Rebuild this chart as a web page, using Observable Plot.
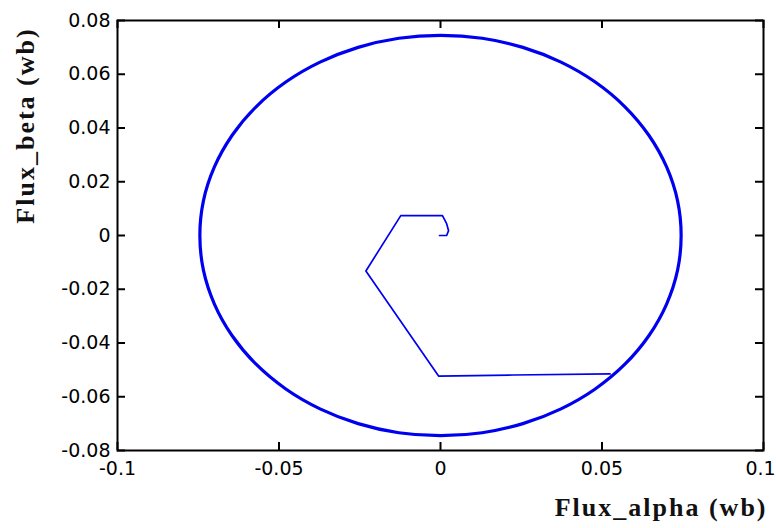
<!DOCTYPE html>
<html>
<head>
<meta charset="utf-8">
<script src="https://cdn.jsdelivr.net/npm/d3@7"></script>
<script src="https://cdn.jsdelivr.net/npm/@observablehq/plot@0.6"></script>
<style>
  html, body { margin: 0; padding: 0; background: #fff; overflow: hidden; }
  g[font-family="Liberation Serif"] text { letter-spacing: 2px; }
</style>
</head>
<body>
<div id="chart"></div>
<script>
// Steady-state flux circle
const circleAlpha = [0.0745, 0.0734, 0.0700, 0.0645, 0.0571, 0.0479, 0.0373, 0.0255, 0.0129, 0.0000,
  -0.0129, -0.0255, -0.0373, -0.0479, -0.0571, -0.0645, -0.0700, -0.0734, -0.0745,
  -0.0734, -0.0700, -0.0645, -0.0571, -0.0479, -0.0373, -0.0255, -0.0129, 0.0000,
  0.0129, 0.0255, 0.0373, 0.0479, 0.0571, 0.0645, 0.0700, 0.0734];
const circleBeta = [0.0000, 0.0129, 0.0255, 0.0373, 0.0479, 0.0571, 0.0645, 0.0700, 0.0734, 0.0745,
  0.0734, 0.0700, 0.0645, 0.0571, 0.0479, 0.0373, 0.0255, 0.0129, 0.0000,
  -0.0129, -0.0255, -0.0373, -0.0479, -0.0571, -0.0645, -0.0700, -0.0734, -0.0745,
  -0.0734, -0.0700, -0.0645, -0.0571, -0.0479, -0.0373, -0.0255, -0.0129];

// Start-up transient trajectory
const startAlpha = [-0.0003, 0.0019, 0.0025, 0.0019, 0.0006, -0.0123, -0.0231, -0.0006, 0.0225, 0.0525];
const startBeta  = [0.0000, 0.0000, 0.0018, 0.0044, 0.0074, 0.0074, -0.0132, -0.0523, -0.0519, -0.0515];

const xTicks = [-0.1, -0.05, 0, 0.05, 0.1];
const xTickLabels = ["-0.1", "-0.05", "0", "0.05", "0.1"];
const yTicks = [0.08, 0.06, 0.04, 0.02, 0, -0.02, -0.04, -0.06, -0.08];
const yTickLabels = ["0.08", "0.06", "0.04", "0.02", "0", "-0.02", "-0.04", "-0.06", "-0.08"];

const xLabel = "Flux_alpha (wb)";
const yLabel = "Flux_beta (wb)";

const xDomain = [-0.1, 0.1];
const yDomain = [-0.08, 0.08];

const circle = circleAlpha.map((a, i) => ({a, b: circleBeta[i]}));
const start = startAlpha.map((a, i) => ({a, b: startBeta[i]}));
const xTickRows = xTicks.map((v, i) => ({v, t: xTickLabels[i]}));
const xTickRowsMain = xTickRows.slice(0, -1);
const xTickRowsLast = xTickRows.slice(-1);

const W = 776, H = 528, ML = 117, MR = 13, MT = 20, MB = 78;
const TL = 8; // inward tick length in px
const innerW = W - ML - MR, innerH = H - MT - MB;
// tick length converted into domain units
const tlx = TL / innerW * (xDomain[1] - xDomain[0]);
const tly = TL / innerH * (yDomain[1] - yDomain[0]);

const tickFont = {fontFamily: "DejaVu Sans", fontSize: 19, fill: "#000"};
const labelFont = {fontFamily: "Liberation Serif", fontWeight: "bold", fontSize: 26, fill: "#111"};
const tickStyle = {stroke: "#000", strokeWidth: 2};

const plot = Plot.plot({
  width: W,
  height: H,
  marginLeft: ML,
  marginRight: MR,
  marginTop: MT,
  marginBottom: MB,
  style: {background: "#fff", color: "#000"},
  x: {domain: xDomain, axis: null},
  y: {domain: yDomain, axis: null},
  marks: [
    Plot.line(circle, {x: "a", y: "b", curve: "catmull-rom-closed", stroke: "#0000f0", strokeWidth: 3.2}),
    Plot.line(start, {x: "a", y: "b", stroke: "#0000f0", strokeWidth: 1.7}),
    // inward tick marks on all four sides
    Plot.ruleX(xTicks, {x: d => d, y1: yDomain[0], y2: yDomain[0] + tly, ...tickStyle}),
    Plot.ruleX(xTicks, {x: d => d, y1: yDomain[1], y2: yDomain[1] - tly, ...tickStyle}),
    Plot.ruleY(yTicks, {y: d => d, x1: xDomain[0], x2: xDomain[0] + tlx, ...tickStyle}),
    Plot.ruleY(yTicks, {y: d => d, x1: xDomain[1], x2: xDomain[1] - tlx, ...tickStyle}),
    Plot.frame({stroke: "#000", strokeWidth: 2}),
    // tick labels
    Plot.text(xTickRowsMain, {x: "v", frameAnchor: "bottom", text: "t", lineAnchor: "top", dy: 11, ...tickFont}),
    Plot.text(xTickRowsLast, {x: "v", frameAnchor: "bottom", text: "t", lineAnchor: "top", dy: 11, dx: -3, ...tickFont}),
    Plot.axisY(yTicks, {anchor: "left", tickSize: 0, tickPadding: 7, label: null,
      tickFormat: d => yTickLabels[yTicks.indexOf(d)], ...tickFont}),
    // axis titles
    Plot.text([xLabel], {frameAnchor: "bottom-right", text: d => d, textAnchor: "end", lineAnchor: "bottom",
      dx: 4, dy: 65, ...labelFont}),
    Plot.text([yLabel], {frameAnchor: "top-left", text: d => d, rotate: -90, textAnchor: "middle", lineAnchor: "middle",
      dx: -92, dy: 105, ...labelFont})
  ]
});
document.getElementById("chart").appendChild(plot);
</script>
</body>
</html>
